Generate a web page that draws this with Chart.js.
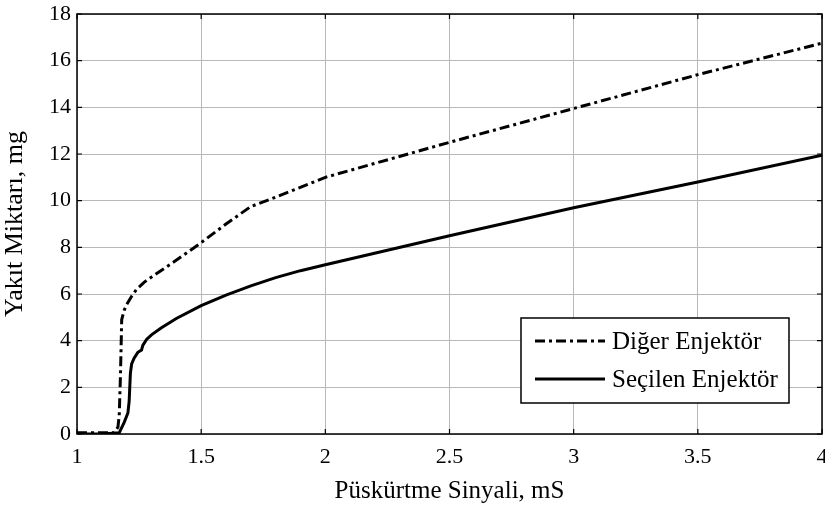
<!DOCTYPE html>
<html>
<head>
<meta charset="utf-8">
<script src="https://cdn.jsdelivr.net/npm/chart.js@4"></script>
<style>
  html, body { margin: 0; padding: 0; background: #fff; overflow: hidden; }
  #wrap { width: 825px; height: 506px; }
</style>
</head>
<body>
<div id="wrap"><canvas id="injectorChart"></canvas></div>
<script>
// injection signal (ms) vs fuel quantity (mg)
const digerX = [1.0, 1.05, 1.10, 1.15, 1.165, 1.17, 1.175, 1.18, 1.19, 1.2, 1.22, 1.24, 1.27, 1.31, 1.38, 1.46, 1.5, 1.6, 1.7, 1.8, 2.0, 2.5, 3.0, 3.5, 4.0];
const digerY = [0.05, 0.05, 0.05, 0.05, 0.3, 0.8, 2.5, 4.9, 5.3, 5.55, 5.9, 6.2, 6.5, 6.8, 7.3, 7.9, 8.2, 9.0, 9.75, 10.15, 11.0, 12.5, 13.95, 15.4, 16.75];

const seciX = [1.0, 1.1, 1.17, 1.19, 1.205, 1.21, 1.215, 1.22, 1.23, 1.245, 1.26, 1.265, 1.28, 1.3, 1.34, 1.4, 1.5, 1.6, 1.7, 1.8, 1.9, 2.0, 2.5, 3.0, 3.5, 4.0];
const seciY = [0.0, 0.0, 0.05, 0.5, 0.9, 1.4, 2.6, 3.0, 3.25, 3.5, 3.6, 3.8, 4.05, 4.25, 4.55, 4.95, 5.5, 5.95, 6.35, 6.7, 7.0, 7.25, 8.5, 9.7, 10.8, 11.95];

const seriesLabels = ['Diğer Enjektör', 'Seçilen Enjektör'];
const xTicks = [1, 1.5, 2, 2.5, 3, 3.5, 4];
const yTicks = [0, 2, 4, 6, 8, 10, 12, 14, 16, 18];

const FONT = "'Liberation Serif', 'Times New Roman', serif";
const DASH_DOT = [10, 4, 3, 4];

function toPoints(xs, ys) {
    return xs.map((x, i) => ({ x: x, y: ys[i] }));
}

// box, inward tick marks and legend, drawn MATLAB-style on top of the plot
const frameAndLegend = {
    id: 'frameAndLegend',
    afterDatasetsDraw(chart) {
        const ctx = chart.ctx;
        const a = chart.chartArea;
        const xs = chart.scales.x;
        const ys = chart.scales.y;
        const tl = 5;

        ctx.save();
        ctx.strokeStyle = '#000';
        ctx.lineWidth = 1.5;
        ctx.setLineDash([]);
        ctx.strokeRect(a.left, a.top, a.right - a.left, a.bottom - a.top);

        ctx.lineWidth = 1.2;
        ctx.beginPath();
        xTicks.forEach(v => {
            const px = xs.getPixelForValue(v);
            ctx.moveTo(px, a.bottom); ctx.lineTo(px, a.bottom - tl);
            ctx.moveTo(px, a.top); ctx.lineTo(px, a.top + tl);
        });
        yTicks.forEach(v => {
            const py = ys.getPixelForValue(v);
            ctx.moveTo(a.left, py); ctx.lineTo(a.left + tl, py);
            ctx.moveTo(a.right, py); ctx.lineTo(a.right - tl, py);
        });
        ctx.stroke();

        // legend box in the lower right
        const bx = 521, by = 318, bw = 268, bh = 85;
        ctx.fillStyle = '#fff';
        ctx.fillRect(bx, by, bw, bh);
        ctx.lineWidth = 1.5;
        ctx.strokeRect(bx, by, bw, bh);

        const rows = [by + 23, by + 61];
        chart.data.datasets.forEach((ds, i) => {
            ctx.beginPath();
            ctx.lineWidth = ds.borderWidth;
            ctx.setLineDash(ds.borderDash || []);
            ctx.moveTo(bx + 14, rows[i]);
            ctx.lineTo(bx + 84, rows[i]);
            ctx.stroke();
            ctx.setLineDash([]);
            ctx.fillStyle = '#000';
            ctx.font = '25px ' + FONT;
            ctx.textAlign = 'left';
            ctx.textBaseline = 'middle';
            ctx.fillText(ds.label, bx + 91, rows[i] + 1);
        });
        ctx.restore();
    }
};

const ctx = document.getElementById('injectorChart').getContext('2d');
new Chart(ctx, {
    type: 'line',
    data: {
        datasets: [
            {
                label: seriesLabels[0],
                data: toPoints(digerX, digerY),
                borderColor: '#000',
                borderWidth: 3,
                borderDash: DASH_DOT,
                pointRadius: 0,
                tension: 0,
                fill: false
            },
            {
                label: seriesLabels[1],
                data: toPoints(seciX, seciY),
                borderColor: '#000',
                borderWidth: 3,
                pointRadius: 0,
                tension: 0,
                fill: false
            }
        ]
    },
    options: {
        responsive: true,
        maintainAspectRatio: false,
        animation: false,
        layout: { padding: { top: 14, right: 3, left: 0, bottom: 0 } },
        plugins: {
            legend: { display: false },
            tooltip: { enabled: false }
        },
        scales: {
            x: {
                type: 'linear',
                min: 1,
                max: 4,
                afterBuildTicks: scale => { scale.ticks = xTicks.map(v => ({ value: v })); },
                afterFit: scale => {
                    scale.height = 72;
                    // let the last label run past the edge instead of shrinking the plot
                    scale.paddingLeft = 0;
                    scale.paddingRight = 0;
                },
                grid: { color: '#b8b8b8', lineWidth: 1, drawTicks: false },
                border: { display: false },
                ticks: {
                    color: '#000',
                    padding: 10,
                    maxRotation: 0,
                    font: { family: FONT, size: 22 },
                    callback: v => String(v)
                },
                title: {
                    display: true,
                    text: 'Püskürtme Sinyali, mS',
                    color: '#000',
                    font: { family: FONT, size: 25 },
                    padding: { top: 4, bottom: 0 }
                }
            },
            y: {
                type: 'linear',
                min: 0,
                max: 18,
                afterBuildTicks: scale => { scale.ticks = yTicks.map(v => ({ value: v })); },
                afterFit: scale => {
                    scale.width = 77;
                    scale.paddingTop = 0;
                    scale.paddingBottom = 0;
                },
                grid: { color: '#b8b8b8', lineWidth: 1, drawTicks: false },
                border: { display: false },
                ticks: {
                    color: '#000',
                    padding: 6,
                    font: { family: FONT, size: 22 },
                    callback: v => String(v)
                },
                title: {
                    display: true,
                    text: 'Yakıt Miktarı, mg',
                    color: '#000',
                    font: { family: FONT, size: 26 },
                    padding: { top: 0, bottom: 2 }
                }
            }
        }
    },
    plugins: [frameAndLegend]
});
</script>
</body>
</html>
